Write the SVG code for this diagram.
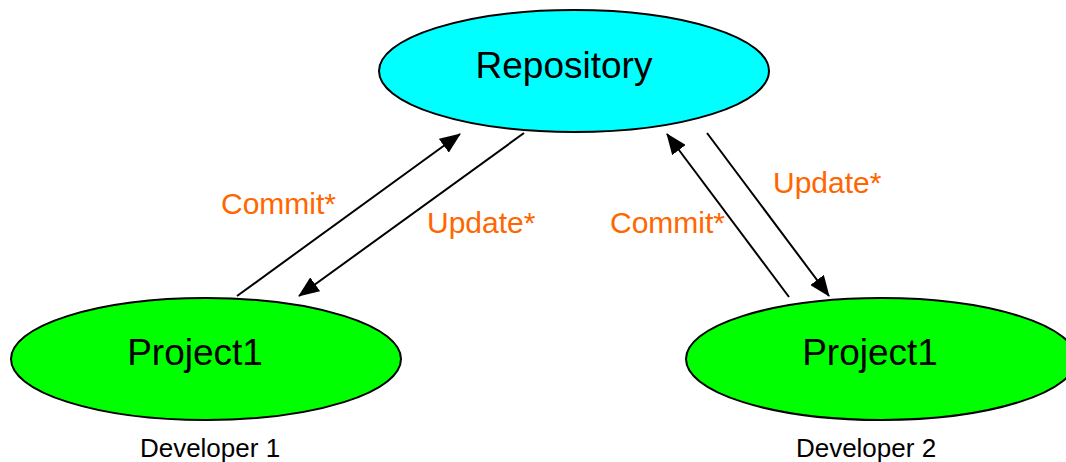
<svg xmlns="http://www.w3.org/2000/svg" width="1066" height="462" viewBox="0 0 1066 462">
<style>
.node{stroke:#000;stroke-width:2}
.repo{fill:#00FFFF}
.proj{fill:#00FF00}
.big{font-family:"Liberation Sans",Arial,sans-serif;font-size:37px;fill:#000;text-anchor:middle}
.dev{font-family:"Liberation Sans",Arial,sans-serif;font-size:26px;fill:#000;text-anchor:middle}
.lbl{font-family:"Liberation Sans",Arial,sans-serif;font-size:30px;fill:#FF6600}
.edge{stroke:#000;stroke-width:2;fill:none}
</style>
<defs>
<marker id="ah" markerUnits="userSpaceOnUse" markerWidth="21" markerHeight="17" viewBox="0 0 21 17" refX="20" refY="8.5" orient="auto">
<path d="M0,0 L21,8.5 L0,17 z" fill="#000"/>
</marker>
</defs>
<rect width="1066" height="462" fill="#fff"/>
<g id="repository">
<ellipse class="node repo" cx="574" cy="71" rx="195" ry="61"/>
<text class="big" x="564" y="78">Repository</text>
</g>
<g id="project1-dev1">
<ellipse class="node proj" cx="206" cy="359" rx="195" ry="61"/>
<text class="big" x="195" y="365">Project1</text>
<text class="dev" x="210" y="457">Developer 1</text>
</g>
<g id="project1-dev2">
<ellipse class="node proj" cx="881" cy="359" rx="195" ry="61"/>
<text class="big" x="870" y="365">Project1</text>
<text class="dev" x="866" y="457">Developer 2</text>
</g>
<g id="connectors">
<line class="edge" x1="237" y1="296" x2="460" y2="134" marker-end="url(#ah)"/>
<line class="edge" x1="524" y1="133" x2="299" y2="296" marker-end="url(#ah)"/>
<line class="edge" x1="789" y1="297" x2="667" y2="134" marker-end="url(#ah)"/>
<line class="edge" x1="707" y1="133" x2="829" y2="296" marker-end="url(#ah)"/>
<text class="lbl" x="221" y="214">Commit*</text>
<text class="lbl" x="427" y="233">Update*</text>
<text class="lbl" x="610" y="233">Commit*</text>
<text class="lbl" x="773" y="193">Update*</text>
</g>
</svg>
